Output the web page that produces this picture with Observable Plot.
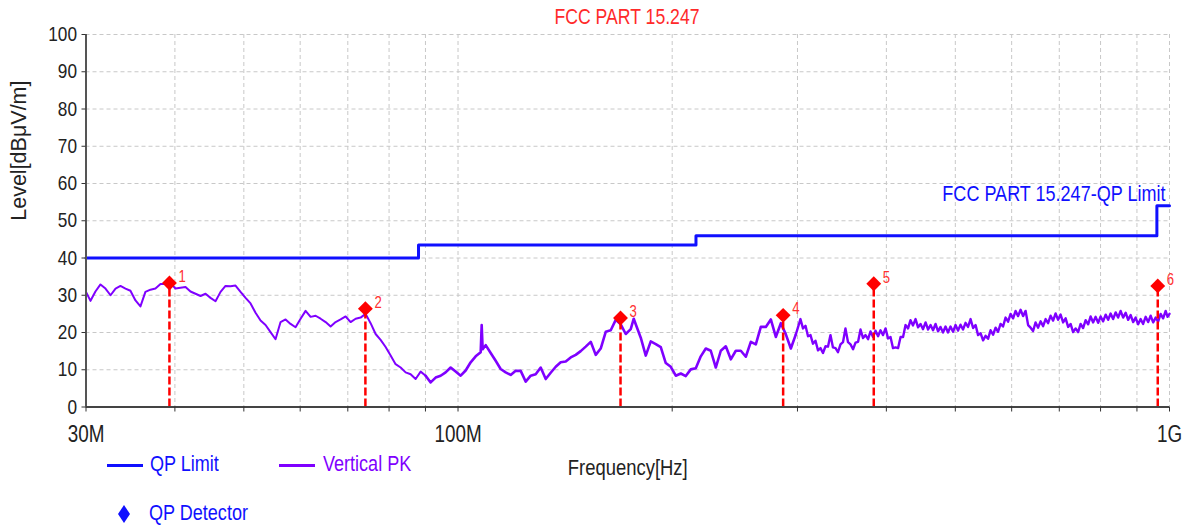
<!DOCTYPE html>
<html><head><meta charset="utf-8">
<script src="https://cdn.jsdelivr.net/npm/d3@7"></script>
<script src="https://cdn.jsdelivr.net/npm/@observablehq/plot@0.6"></script>
<style>
body{margin:0;background:#fff;}
#wrap{position:relative;width:1190px;height:529px;overflow:hidden;font-family:"Liberation Sans",Arial,sans-serif;}
#chart{position:absolute;left:0;top:0;}
#title{position:absolute;left:85px;width:1084px;top:4px;height:26px;line-height:26px;text-align:center;color:#ff2a2a;font-size:21.5px;transform:scaleX(0.82);transform-origin:center;}
.leg{position:absolute;font-size:22px;line-height:24px;white-space:nowrap;transform:scaleX(0.82);transform-origin:left center;}
.sw{position:absolute;height:3px;}
</style></head><body>
<div id="wrap">
  <div id="chart"></div>
  <div id="title">FCC PART 15.247</div>
  <div id="legend"></div>
</div>
<script>
// Vertical PK trace: frequency (MHz) and level (dBµV/m)
const freqMHz = [30,30.44,30.93,31.44,31.95,32.48,33.01,33.54,34.09,34.64,35.21,35.78,36.36,36.96,37.56,38.18,38.80,39.44,40.08,40.73,41.40,42.07,42.76,43.46,44.17,44.89,45.62,46.37,47.12,47.89,48.67,49.47,50.28,51.10,51.93,52.78,53.64,54.51,55.40,56.31,57.23,58.16,59.11,60.08,61.06,62.06,63.07,64.10,65.15,66.21,67.29,68.39,69.51,70.64,71.79,72.96,74.15,75.36,76.59,77.84,79.11,80.40,81.71,83.05,84.40,85.78,87.18,88.61,90.05,91.52,93.01,94.53,96.07,97.64,99.23,100.86,102.50,104.18,105.88,107.61,107.96,108.30,109.37,111.15,112.96,114.80,116.68,118.58,120.52,122.49,124.49,126.52,128.58,130.68,132.82,134.98,137.19,139.42,141.70,144.01,146.36,148.75,151.18,153.65,156.15,158.70,161.29,163.93,166.60,169.32,172.08,174.89,176.6,177.74,180.65,183.60,186.60,189.64,192.74,195.88,199.08,202.33,205.63,208.99,212.40,215.87,219.39,222.97,226.61,230.31,234.07,237.89,241.77,245.72,249.73,253.81,257.95,262.16,266.44,270.79,275.21,279.70,284.27,288.91,293.62,298.42,
  302.9,305.4,307.9,310.4,312.9,315.4,318.0,320.6,323.2,325.8,328.5,331.1,333.8,336.5,339.3,342.0,344.8,347.6,350.4,353.3,356.2,359.1,362.0,365.0,367.9,370.9,373.9,377.0,380.0,383.1,386.2,389.4,392.5,395.7,398.9,402.2,405.4,408.7,412.0,415.4,418.8,422.2,425.6,429.1,432.5,436.0,439.6,443.2,446.8,450.4,454.1,457.8,461.5,465.2,469.0,472.8,476.6,480.5,484.4,488.3,492.3,496.3,500.4,504.4,508.5,512.6,516.8,521.0,525.3,529.6,533.9,538.2,542.6,547.0,551.4,555.9,560.4,565.0,569.6,574.2,578.8,583.5,588.3,593.1,597.9,602.8,607.7,612.6,617.6,622.6,627.7,632.8,637.9,643.1,648.3,653.6,658.9,664.3,669.7,675.1,680.6,686.1,691.7,697.3,703.0,708.7,714.5,720.3,726.1,732.0,738.0,744.0,750.0,756.1,762.3,768.5,774.7,781.0,787.4,793.8,800.2,806.7,813.3,819.9,826.5,833.2,840.0,846.8,853.7,860.7,867.7,874.7,881.8,889.0,896.2,903.5,910.8,918.2,925.7,933.2,940.8,948.5,956.2,963.9,971.7,979.6,987.6,993.8,1000];
const levelPK = [30.9,28.5,31.0,32.9,31.8,30.0,31.8,32.5,31.8,31.2,28.6,27.0,30.9,31.5,31.8,33.0,33.0,33.2,31.8,32.0,32.2,31.0,30.4,29.8,30.4,29.3,28.4,30.9,32.5,32.4,32.6,30.9,29.3,27.8,25.3,23.2,22.0,20.1,18.2,22.8,23.5,22.3,21.4,23.7,25.8,24.2,24.5,23.7,22.8,21.6,22.8,23.5,24.3,22.8,23.7,24.0,25.0,22.5,19.6,18.0,16.1,13.8,11.5,10.6,9.3,8.8,7.5,9.5,8.4,6.6,7.9,8.4,9.3,10.6,9.5,8.4,9.8,12.0,13.6,14.7,22.0,15.5,16.6,14.5,12.4,10.2,9.3,8.6,9.7,9.7,6.8,8.4,8.8,10.6,7.5,9.2,10.8,12.0,12.2,13.3,14.0,15.0,16.2,17.5,14.0,15.7,20.2,20.6,23.4,22.2,19.6,20.9,23.7,22.2,18.6,13.8,17.6,16.9,16.1,11.8,10.8,8.4,9.0,8.3,10.1,10.4,13.6,15.7,15.1,10.6,15.1,16.3,12.8,15.1,15.1,13.5,17.5,16.8,21.5,21.5,23.5,18.8,22.5,19.5,15.7,19.5,
  23.6,21.1,21.8,19.0,19.3,17.0,17.8,15.2,15.8,14.5,16.3,16.2,19.3,16.0,15.8,14.7,16.8,17.4,21.1,17.4,16.8,15.5,17.3,17.5,20.8,18.5,19.3,18.2,20.3,18.8,20.5,19.0,20.6,19.3,21.1,18.4,18.8,15.8,16.0,15.8,18.8,18.8,22.0,21.1,23.3,21.9,23.6,21.4,22.3,20.9,22.7,20.8,22.0,20.6,22.3,20.3,21.5,20.0,21.6,20.0,21.6,20.2,22.0,20.5,22.1,20.8,22.6,21.5,23.6,21.2,22.0,19.3,19.8,17.9,19.1,18.3,20.6,19.4,21.3,20.2,22.3,21.6,24.0,22.9,25.0,23.8,25.8,24.4,26.1,24.4,25.8,22.0,21.3,20.4,22.7,21.3,23.0,21.7,23.6,22.5,24.5,23.2,25.1,23.4,24.8,22.7,23.8,21.5,22.3,20.1,21.1,20.1,22.3,21.2,23.3,22.2,24.3,22.7,24.2,22.6,24.3,23.0,24.8,23.4,25.1,23.6,25.4,24.0,25.8,24.0,25.3,23.4,24.7,22.8,24.0,22.2,23.6,22.3,24.2,22.8,24.5,22.7,24.0,22.9,25.0,23.8,25.8,24.2,25.0];

// QP limit (stepped)
const limitFreq  = [30, 88, 88, 216, 216, 960, 960, 1000];
const limitLevel = [40, 40, 43.5, 43.5, 46, 46, 54, 54];

// QP detector markers
const markerFreq  = [39.3, 74.1, 169.2, 286.4, 384, 962.7];
const markerLevel = [33.3, 26.4, 23.9, 24.6, 33.1, 32.5];
const markerLabel = ["1", "2", "3", "4", "5", "6"];

// axes
const gridFreq  = [30,40,50,60,70,80,90,100,200,300,400,500,600,700,800,900,1000];
const gridLevel = [0,10,20,30,40,50,60,70,80,90,100];
const xTickText = {30: "30M", 100: "100M", 1000: "1G"};

const trace = freqMHz.map((f, i) => ({f, v: levelPK[i]}));
const limit = limitFreq.map((f, i) => ({f, v: limitLevel[i]}));
const markers = markerFreq.map((f, i) => ({f, v: markerLevel[i], t: markerLabel[i]}));

const BLUE = "#1010ff", PURPLE = "#7f00ff", RED = "#ff0000";

const chart = Plot.plot({
  width: 1190,
  height: 480,
  marginTop: 34,
  marginLeft: 85.5,
  marginRight: 21,
  marginBottom: 73.5,
  style: {fontFamily: '"Liberation Sans",Arial,sans-serif', fontSize: "21px", color: "#222", background: "transparent"},
  x: {type: "log", domain: [30, 1000]},
  y: {domain: [0, 100]},
  marks: [
    Plot.ruleX(gridFreq, {stroke: "#c8c8c8", strokeWidth: 1, strokeDasharray: "4,3"}),
    Plot.ruleY(gridLevel, {stroke: "#c8c8c8", strokeWidth: 1, strokeDasharray: "4,3"}),
    Plot.line(trace.filter(d => d.f <= 90.05), {x: "f", y: "v", stroke: PURPLE, strokeWidth: 2, strokeLinejoin: "round"}),
    Plot.line(trace.filter(d => d.f >= 90.05 && d.f <= 298.42), {x: "f", y: "v", stroke: PURPLE, strokeWidth: 2.6, strokeLinejoin: "round"}),
    Plot.line(trace.filter(d => d.f >= 298.42), {x: "f", y: "v", stroke: PURPLE, strokeWidth: 2.4, strokeLinejoin: "round"}),
    Plot.line(limit, {x: "f", y: "v", stroke: BLUE, strokeWidth: 3}),
    Plot.ruleX(markers, {x: "f", y1: 0, y2: "v", stroke: RED, strokeWidth: 2.5, strokeDasharray: "8,3"}),
    Plot.dot(markers, {x: "f", y: "v", symbol: "diamond2", r: 6.7, fill: RED, stroke: "none"}),
    Plot.text(markers, {x: "f", y: "v", text: "t", dx: 9, dy: -6, textAnchor: "start", fill: "#ff3030", fontSize: 16}),
    Plot.text(["FCC PART 15.247-QP Limit"], {x: 1000, y: 57.3, textAnchor: "end", dx: -4, fill: BLUE, fontSize: 22}),
    Plot.ruleX([30], {stroke: "#555", strokeWidth: 2}),
    Plot.ruleY([0], {stroke: "#444", strokeWidth: 2}),
    Plot.axisY(gridLevel, {tickSize: 4, tickPadding: 5, fontSize: 21, label: null, stroke: "#333", tickFormat: d => String(d)}),
    Plot.axisX(gridFreq, {tickSize: 5, tickPadding: 13.5, fontSize: 23, label: null, stroke: "#333", tickFormat: d => xTickText[d] ?? ""}),
    Plot.text(["Level[dBμV/m]"], {frameAnchor: "left", dx: -67, rotate: -90, fontSize: 21.5, fill: "#222"}),
    Plot.text(["Frequency[Hz]"], {frameAnchor: "bottom", dy: 60.5, lineAnchor: "middle", fontSize: 22.5, fill: "#222"})
  ]
});
document.getElementById("chart").appendChild(chart);

// condense horizontal texts (narrow typeface in the reference) by a horizontal scale about each text's anchor
for (const t of chart.querySelectorAll("text")) {
  const s = t.textContent;
  if (!s || s.startsWith("Level")) continue;
  const b = t.getBBox();
  if (!(b.width > 0)) continue;
  const anchor = getComputedStyle(t).textAnchor;
  const k = anchor === "end" ? 1 : anchor === "middle" ? 0.5 : 0;
  const ax = b.x + b.width * k;
  const prev = t.getAttribute("transform") || "";
  t.setAttribute("transform", `${prev} translate(${ax},0) scale(0.82,1) translate(${-ax},0)`.trim());
}

// legend
const legend = document.getElementById("legend");
const items = [
  {type: "line", color: BLUE, text: "QP Limit", sx: 107, sw: 36, tx: 150, y: 465},
  {type: "line", color: PURPLE, text: "Vertical PK", sx: 279, sw: 36, tx: 323, y: 465},
  {type: "diamond", color: BLUE, text: "QP Detector", sx: 117, sw: 13, tx: 149, y: 514}
];
for (const it of items) {
  if (it.type === "line") {
    const s = document.createElement("div");
    s.className = "sw";
    s.style.cssText = `left:${it.sx}px;top:${it.y - 1.5}px;width:${it.sw}px;background:${it.color};`;
    legend.appendChild(s);
  } else {
    const ns = "http://www.w3.org/2000/svg";
    const svg = document.createElementNS(ns, "svg");
    svg.setAttribute("width", 14); svg.setAttribute("height", 20);
    svg.style.cssText = `position:absolute;left:${it.sx}px;top:${it.y - 10}px;`;
    const p = document.createElementNS(ns, "polygon");
    p.setAttribute("points", "7,1 13,10 7,19 1,10");
    p.setAttribute("fill", it.color);
    svg.appendChild(p);
    legend.appendChild(svg);
  }
  const t = document.createElement("div");
  t.className = "leg";
  t.textContent = it.text;
  t.style.cssText = `left:${it.tx}px;top:${it.y - 13}px;color:${it.color};`;
  legend.appendChild(t);
}
</script>
</body></html>
